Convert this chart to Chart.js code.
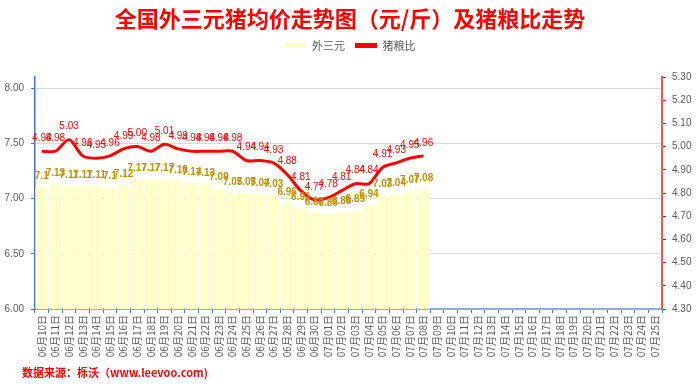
<!DOCTYPE html>
<html>
<head>
<meta charset="utf-8">
<script src="https://cdn.jsdelivr.net/npm/chart.js@4"></script>
<style>
  body { margin: 0; background: #fff; }
  #wrap { position: relative; width: 700px; height: 387px; }
  #source {
    position: absolute; left: 22px; top: 364px;
    font: bold 11px "Noto Sans CJK SC", "Liberation Sans", sans-serif;
    color: #ff0000; white-space: nowrap;
  }
</style>
</head>
<body>
<div id="wrap">
  <canvas id="pigChart" width="700" height="387"></canvas>
  <div id="source">数据来源：栎沃（www.leevoo.com)</div>
</div>
<script>
const days = [
  "06月10日", "06月11日", "06月12日", "06月13日", "06月14日", "06月15日", "06月16日",
  "06月17日", "06月18日", "06月19日", "06月20日", "06月21日", "06月22日", "06月23日",
  "06月24日", "06月25日", "06月26日", "06月27日", "06月28日", "06月29日", "06月30日",
  "07月01日", "07月02日", "07月03日", "07月04日", "07月05日", "07月06日", "07月07日",
  "07月08日", "07月09日", "07月10日", "07月11日", "07月12日", "07月13日", "07月14日",
  "07月15日", "07月16日", "07月17日", "07月18日", "07月19日", "07月20日", "07月21日",
  "07月22日", "07月23日", "07月24日", "07月25日"
];
// 外三元 price, yuan per jin
const price = [
  7.1, 7.13, 7.11, 7.11, 7.11, 7.1, 7.12, 7.17, 7.17, 7.17, 7.16, 7.14, 7.13, 7.09,
  7.05, 7.05, 7.04, 7.03, 6.96, 6.91, 6.87, 6.86, 6.88, 6.89, 6.94, 7.03, 7.04, 7.07, 7.08
];
// 猪粮比
const ratio = [
  4.98, 4.98, 5.03, 4.96, 4.95, 4.96, 4.99, 5.0, 4.98, 5.01, 4.99, 4.98, 4.98, 4.98,
  4.98, 4.94, 4.94, 4.93, 4.88, 4.81, 4.77, 4.78, 4.81, 4.84, 4.84, 4.91, 4.93, 4.95, 4.96
];
const priceTicks = [6.0, 6.5, 7.0, 7.5, 8.0];

const baseFont = "'Liberation Sans', 'Noto Sans CJK SC', sans-serif";
const cjkFont = "'Noto Sans CJK SC', 'Liberation Sans', sans-serif";

// draws the number above every bar / point
const valueLabels = {
  id: "valueLabels",
  afterDatasetsDraw(chart) {
    const ctx = chart.ctx;
    chart.data.datasets.forEach((ds, i) => {
      const meta = chart.getDatasetMeta(i);
      ctx.save();
      ctx.textAlign = "center";
      ctx.textBaseline = "middle";
      ctx.fillStyle = ds.labelColor;
      ctx.font = ds.type === "bar" ? "bold 10px " + baseFont : "10px " + baseFont;
      meta.data.forEach((el, j) => {
        const v = ds.data[j];
        if (v == null) return;
        const txt = ds.type === "bar" ? String(v) : v.toFixed(2);
        ctx.fillText(txt, el.x, el.y - ds.labelOffset);
      });
      ctx.restore();
    });
  },
};

new Chart(document.getElementById("pigChart"), {
  data: {
    labels: days,
    datasets: [
      {
        type: "bar",
        label: "外三元",
        data: price,
        yAxisID: "y",
        backgroundColor: "#ffffcc",
        barPercentage: 0.92,
        categoryPercentage: 1,
        order: 2,
        labelColor: "#bf9000",
        labelOffset: 11,
      },
      {
        type: "line",
        label: "猪粮比",
        data: ratio,
        yAxisID: "y2",
        borderColor: "#ff0000",
        backgroundColor: "#ff0000",
        borderWidth: 3,
        pointRadius: 0,
        tension: 0.3,
        order: 1,
        labelColor: "#ff0000",
        labelOffset: 13,
      },
    ],
  },
  options: {
    responsive: false,
    animation: false,
    layout: { padding: { left: 0, right: 0, top: 0, bottom: 28 } },
    plugins: {
      tooltip: { enabled: false },
      title: {
        display: true,
        text: "全国外三元猪均价走势图（元/斤）及猪粮比走势",
        color: "#ff0000",
        font: { family: cjkFont, size: 22, weight: "bold", lineHeight: 1 },
        padding: { top: 8, bottom: 0 },
      },
      legend: {
        display: true,
        weight: 1800,
        sort: (a, b) => a.datasetIndex - b.datasetIndex,
        labels: {
          color: "#595959",
          font: { family: cjkFont, size: 11 },
          boxWidth: 22,
          boxHeight: 5,
          padding: 10,
          generateLabels(chart) {
            return chart.data.datasets.map((ds, i) => ({
              text: ds.label,
              fillStyle: ds.type === "bar" ? "#ffffcc" : "#ff0000",
              strokeStyle: ds.type === "bar" ? "#ffffcc" : "#ff0000",
              lineWidth: 0,
              fontColor: "#595959",
              datasetIndex: i,
            }));
          },
        },
      },
      // empty spacer between legend and plot
      subtitle: {
        display: true,
        text: "",
        font: { size: 1, lineHeight: 1 },
        padding: { top: 0, bottom: 15 },
      },
    },
    scales: {
      x: {
        offset: true,
        border: { color: "#8faadc", width: 2 },
        grid: {
          offset: true,
          drawOnChartArea: false,
          tickColor: "#4472c4",
          tickLength: 4,
        },
        ticks: {
          autoSkip: false,
          minRotation: 90,
          maxRotation: 90,
          color: "#595959",
          padding: 2,
          font: { family: cjkFont, size: 10 },
        },
        afterFit(scale) {
          scale.height = 50;
        },
      },
      y: {
        position: "left",
        min: 6,
        max: 8.1,
        border: { color: "#4472c4", width: 1.5 },
        grid: { color: "#d9d9d9", tickColor: "#4472c4", tickLength: 4 },
        ticks: {
          color: "#595959",
          padding: 7,
          font: { family: baseFont, size: 10 },
          callback: (v) => v.toFixed(2),
        },
        afterBuildTicks(scale) {
          scale.ticks = priceTicks.map((v) => ({ value: v }));
        },
        afterFit(scale) {
          scale.width = 35;
        },
      },
      y2: {
        position: "right",
        min: 4.3,
        max: 5.3,
        border: { color: "#ff5050", width: 2 },
        grid: { drawOnChartArea: false, tickColor: "#ff0000", tickLength: 4 },
        ticks: {
          stepSize: 0.1,
          color: "#595959",
          padding: 6,
          font: { family: baseFont, size: 10 },
          callback: (v) => v.toFixed(2),
        },
        afterFit(scale) {
          scale.width = 38;
        },
      },
    },
  },
  plugins: [valueLabels],
});
</script>
</body>
</html>
